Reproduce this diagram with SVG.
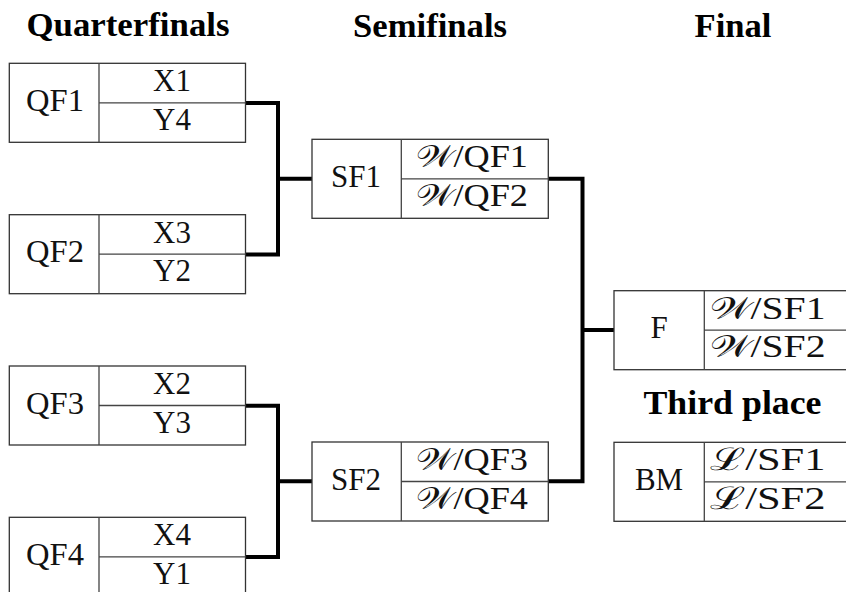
<svg xmlns="http://www.w3.org/2000/svg" width="846" height="592" viewBox="0 0 846 592">
<style>
.box{fill:#fff;stroke:#333;stroke-width:1.3}
.div{stroke:#444;stroke-width:1.3;fill:none}
.t{font-family:"Liberation Serif","Times New Roman",serif;font-size:31px;fill:#111;text-anchor:middle}
.h{font-family:"Liberation Serif","Times New Roman",serif;font-size:34px;font-weight:bold;fill:#000;text-anchor:middle}
.c{stroke:#000;stroke-width:4;fill:none;stroke-linejoin:miter}
</style>
<rect width="846" height="592" fill="#fff"/>
<g id="headers">
<text class="h" x="128" y="36" textLength="203" lengthAdjust="spacingAndGlyphs">Quarterfinals</text>
<text class="h" x="430" y="37" textLength="154" lengthAdjust="spacingAndGlyphs">Semifinals</text>
<text class="h" x="733" y="37" textLength="77" lengthAdjust="spacingAndGlyphs">Final</text>
<text class="h" x="732.5" y="414" textLength="178" lengthAdjust="spacingAndGlyphs">Third place</text>
</g>
<g id="connectors">
<path class="c" d="M245.5 103 H278 V254.5 H245.5 M278 178.7 H312"/>
<path class="c" d="M245.5 405.7 H278 V557 H245.5 M278 481.3 H312"/>
<path class="c" d="M548.3 178.7 H582.5 V481.3 H548.3 M582.5 330 H614"/>
</g>
<g id="QF1">
<rect class="box" x="9.3" y="63.3" width="236.2" height="79"/>
<path class="div" d="M99 63.3 V142.3 M99 102.8 H245.5"/>
<text class="t" x="55" y="110.8" textLength="58" lengthAdjust="spacingAndGlyphs">QF1</text>
<text class="t" x="172" y="91.3">X1</text>
<text class="t" x="172" y="129.8">Y4</text>
</g>
<g id="QF2">
<rect class="box" x="9.3" y="214.7" width="236.2" height="79"/>
<path class="div" d="M99 214.7 V293.7 M99 254.2 H245.5"/>
<text class="t" x="55" y="262.2" textLength="58" lengthAdjust="spacingAndGlyphs">QF2</text>
<text class="t" x="172" y="242.7">X3</text>
<text class="t" x="172" y="281.2">Y2</text>
</g>
<g id="QF3">
<rect class="box" x="9.3" y="366" width="236.2" height="79"/>
<path class="div" d="M99 366 V445 M99 405.5 H245.5"/>
<text class="t" x="55" y="413.5" textLength="58" lengthAdjust="spacingAndGlyphs">QF3</text>
<text class="t" x="172" y="394">X2</text>
<text class="t" x="172" y="432.5">Y3</text>
</g>
<g id="QF4">
<rect class="box" x="9.3" y="517.3" width="236.2" height="79"/>
<path class="div" d="M99 517.3 V596.3 M99 556.8 H245.5"/>
<text class="t" x="55" y="564.8" textLength="58" lengthAdjust="spacingAndGlyphs">QF4</text>
<text class="t" x="172" y="545.3">X4</text>
<text class="t" x="172" y="583.8">Y1</text>
</g>
<g id="SF1">
<rect class="box" x="312" y="139.3" width="236.3" height="79"/>
<path class="div" d="M401.3 139.3 V218.3 M401.3 178.8 H548.3"/>
<text class="t" x="356" y="186.8">SF1</text>
<text class="t" x="472" y="167.3" textLength="112" lengthAdjust="spacingAndGlyphs">𝒲/QF1</text>
<text class="t" x="472" y="205.8" textLength="112" lengthAdjust="spacingAndGlyphs">𝒲/QF2</text>
</g>
<g id="SF2">
<rect class="box" x="312" y="442" width="236.3" height="79"/>
<path class="div" d="M401.3 442 V521 M401.3 481.5 H548.3"/>
<text class="t" x="356" y="489.5">SF2</text>
<text class="t" x="472" y="470" textLength="112" lengthAdjust="spacingAndGlyphs">𝒲/QF3</text>
<text class="t" x="472" y="508.5" textLength="112" lengthAdjust="spacingAndGlyphs">𝒲/QF4</text>
</g>
<g id="F">
<rect class="box" x="614" y="290.7" width="238" height="79"/>
<path class="div" d="M704.3 290.7 V369.7 M704.3 330.2 H852"/>
<text class="t" x="659" y="338.2">F</text>
<text class="t" x="767.5" y="318.7" textLength="116" lengthAdjust="spacingAndGlyphs">𝒲/SF1</text>
<text class="t" x="767.5" y="357.2" textLength="116" lengthAdjust="spacingAndGlyphs">𝒲/SF2</text>
</g>
<g id="BM">
<rect class="box" x="614" y="442.3" width="238" height="79"/>
<path class="div" d="M704.3 442.3 V521.3 M704.3 481.8 H852"/>
<text class="t" x="659" y="489.8">BM</text>
<text class="t" x="767.5" y="470.3" textLength="116" lengthAdjust="spacingAndGlyphs">ℒ/SF1</text>
<text class="t" x="767.5" y="508.8" textLength="116" lengthAdjust="spacingAndGlyphs">ℒ/SF2</text>
</g>
</svg>
